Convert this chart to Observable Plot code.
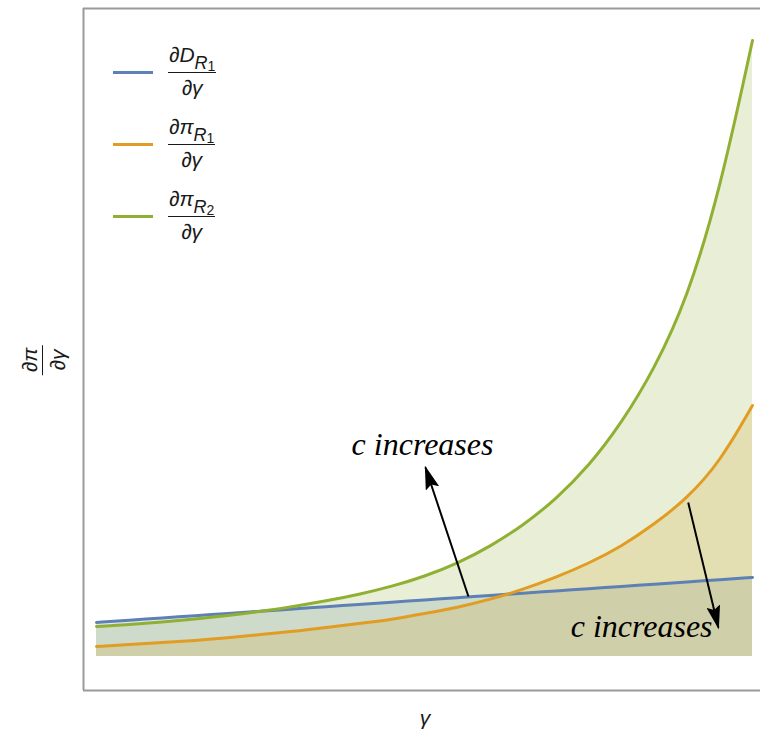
<!DOCTYPE html>
<html><head><meta charset="utf-8">
<script src="https://cdn.jsdelivr.net/npm/d3@7"></script>
<script src="https://cdn.jsdelivr.net/npm/@observablehq/plot@0.6"></script>
<style>
body{margin:0;background:#fff}
#wrap{position:relative;width:760px;height:732px;overflow:hidden}
#wrap svg{position:absolute;left:0;top:0}
.frac{position:absolute;display:flex;flex-direction:column;align-items:center;font-family:"Liberation Sans",Arimo,Arial,"DejaVu Sans",sans-serif;font-style:italic;color:#1a1a1a;font-size:21px}
.frac .num{border-bottom:1.6px solid #1a1a1a;line-height:22px;height:29px;padding:0 1px;white-space:nowrap;box-sizing:border-box}
.frac .den{line-height:22px;padding-top:4px;white-space:nowrap}
.sub1{font-size:18px;position:relative;top:7px}
.sub2{font-size:14px;position:relative;top:2px;font-style:normal}
.key{position:absolute;height:3px;width:40px}
.lab{position:absolute;font-family:"Liberation Sans",Arimo,Arial,"DejaVu Sans",sans-serif;font-style:italic;font-size:21px;color:#1a1a1a}
</style></head>
<body><div id="wrap"></div>
<script>
// ---- data ----
const gamma = [0,0.05,0.1,0.15,0.2,0.25,0.3,0.35,0.4,0.45,0.5,0.55,0.6,0.65,0.7,0.75,0.8,0.85,0.9,0.95,1];
const dD_R1  = [34,36.3,38.5,40.8,43,45.3,47.5,49.8,52,54.3,56.5,58.8,61,63.3,65.5,67.8,70,72.3,74.5,76.8,79];
const dPi_R1 = [10,12,14,16,18.5,22,25,29,33,37,43,49,57,67,79,93,110,132,158,194,251];
const dPi_R2 = [30,32,34.5,37.5,41,45,50,55.5,62,70,80,93,110,131,157,190,233,287,357,465,616];

const seriesNames = ["dD_R1","dPi_R1","dPi_R2"];
const seriesColors = ["#5E81B5","#E19C24","#8FB032"];
const legendNum = ["∂D","∂π","∂π"];
const legendSub = ["R","R","R"];
const legendSubSub = ["1","1","2"];

// annotations (data units)
const arrows = [
  {g0:0.567, v0:60,  g1:0.5015, v1:189},
  {g0:0.902, v0:154, g1:0.948,  v1:29}
];
const notes = [
  {g:0.497, v:212, text:"c increases"},
  {g:0.831, v:30,  text:"c increases"}
];

const xDomain = [-0.0198, 1.0122];
const yDomain = [-34, 648];

const rows = gamma.flatMap((g,i)=>[
  {g, v:dD_R1[i],  s:seriesNames[0]},
  {g, v:dPi_R1[i], s:seriesNames[1]},
  {g, v:dPi_R2[i], s:seriesNames[2]}
]);

const chart = Plot.plot({
  width:760, height:732,
  marginLeft:83, marginRight:0, marginTop:8, marginBottom:42,
  x:{domain:xDomain, axis:null},
  y:{domain:yDomain, axis:null},
  color:{domain:seriesNames, range:seriesColors},
  marks:[
    Plot.areaY(rows,{x:"g", y1:0, y2:"v", z:"s", fill:"s", fillOpacity:0.2, curve:"basis"}),
    Plot.lineY(rows,{x:"g", y:"v", z:"s", stroke:"s", strokeWidth:3, curve:"basis"}),
    Plot.ruleX([xDomain[0]],{stroke:"#9a9a9a", strokeWidth:2}),
    Plot.ruleY([yDomain[0], yDomain[1]],{stroke:"#9a9a9a", strokeWidth:2}),
    Plot.link(arrows,{x1:"g0", y1:"v0", x2:"g1", y2:"v1", stroke:"black", strokeWidth:2, className:"anno-arrow"}),
    Plot.text(notes,{x:"g", y:"v", text:"text", fontFamily:"'Liberation Serif','Times New Roman','DejaVu Serif',serif", fontStyle:"italic", fontSize:32, fill:"black"})
  ]
});

// filled arrow heads
const svg = d3.select(chart);
svg.append("defs").append("marker")
  .attr("id","ahead").attr("markerUnits","userSpaceOnUse")
  .attr("viewBox","0 0 24 14").attr("markerWidth",24).attr("markerHeight",14)
  .attr("refX",22).attr("refY",7).attr("orient","auto")
  .append("path").attr("d","M0,0L24,7L0,14L4,7Z").attr("fill","black");
svg.selectAll(".anno-arrow path").attr("marker-end","url(#ahead)");

const wrap = document.getElementById("wrap");
wrap.appendChild(chart);

// legend
const rowY = [72,144,216];
seriesNames.forEach((s,i)=>{
  const k = document.createElement("div");
  k.className="key"; k.style.left="113px"; k.style.top=(rowY[i]-1.5)+"px"; k.style.background=seriesColors[i];
  wrap.appendChild(k);
  const f = document.createElement("div");
  f.className="frac"; f.style.left="168px"; f.style.top=(rowY[i]-28)+"px";
  f.innerHTML = `<div class="num">${legendNum[i]}<span class="sub1">${legendSub[i]}<span class="sub2">${legendSubSub[i]}</span></span></div><div class="den">∂γ</div>`;
  wrap.appendChild(f);
});

// y label
const yl = document.createElement("div");
yl.className="frac";
yl.style.left="44px"; yl.style.top="360px"; yl.style.transform="translate(-50%,-50%) rotate(-90deg)";
yl.innerHTML = `<div class="num" style="padding:0 3px;height:24px">∂π</div><div class="den">∂γ</div>`;
wrap.appendChild(yl);

// x label
const xl = document.createElement("div");
xl.className="lab"; xl.textContent="γ";
xl.style.left="425px"; xl.style.top="718px"; xl.style.transform="translate(-50%,-50%)";
wrap.appendChild(xl);
</script></body></html>
